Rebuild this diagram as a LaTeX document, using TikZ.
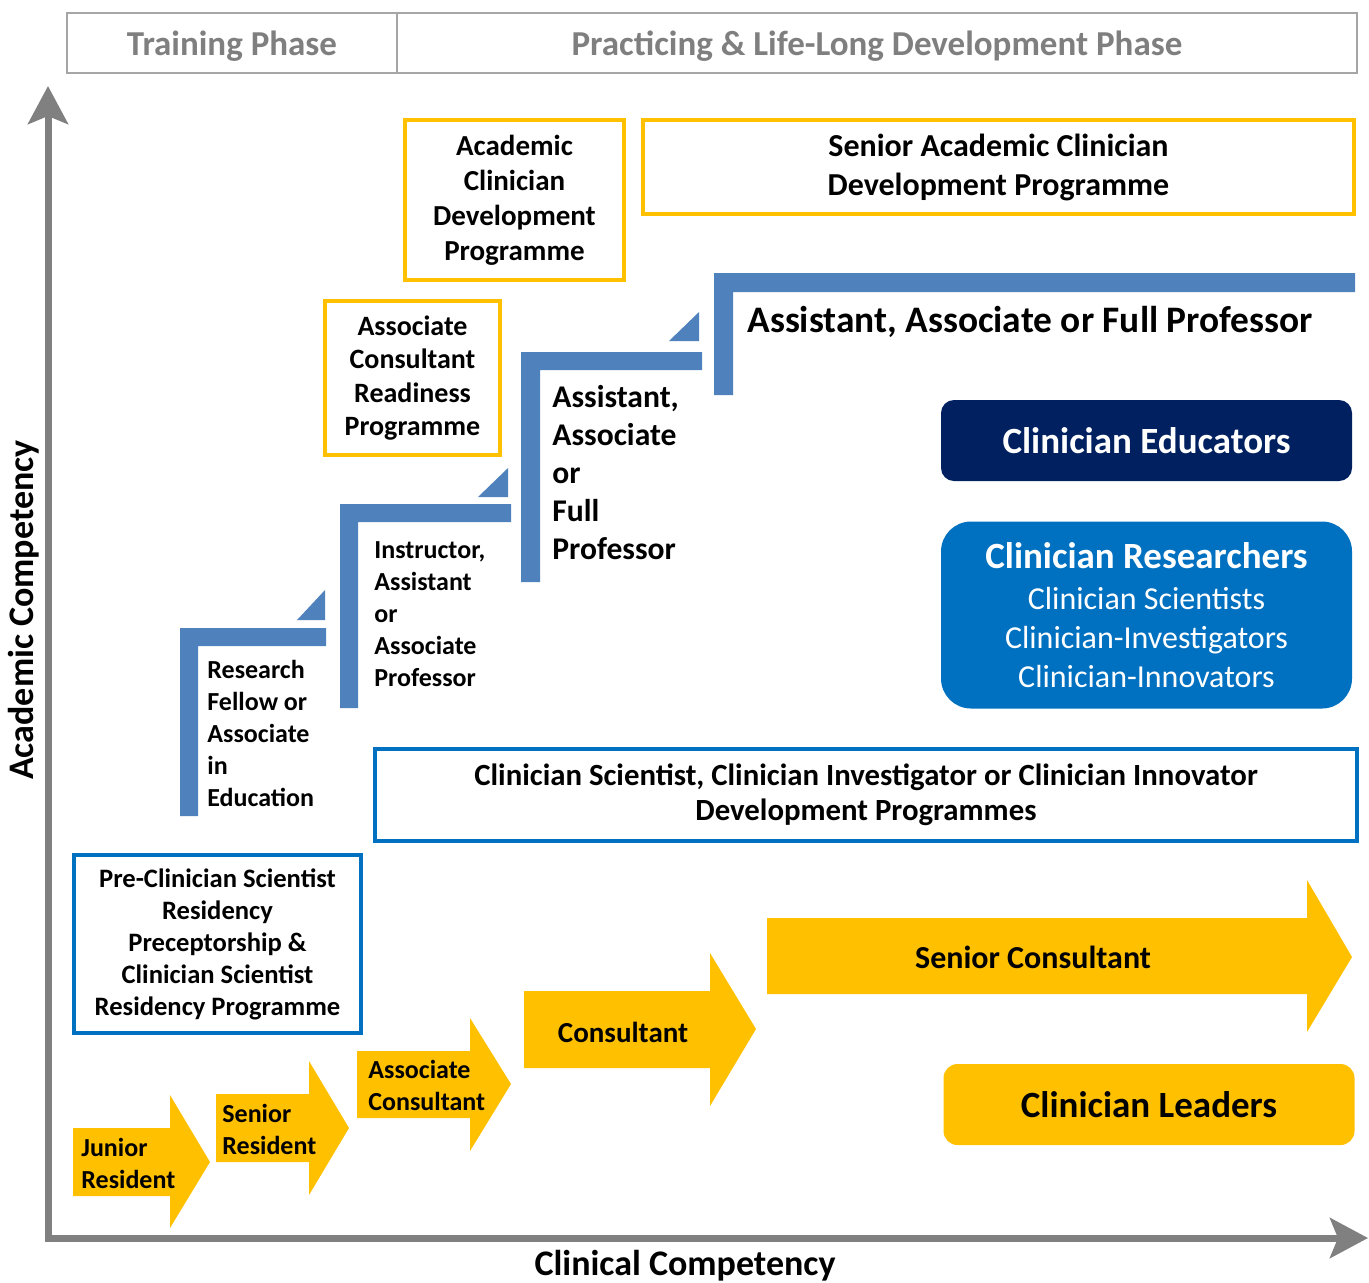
\documentclass[tikz,border=0pt]{standalone}
\usepackage{fontspec}
\setmainfont{Carlito}
\usetikzlibrary{arrows.meta,positioning}
\definecolor{gold}{HTML}{FFC000}
\definecolor{stairblue}{HTML}{4F81BD}
\definecolor{navy}{HTML}{002060}
\definecolor{midblue}{HTML}{0070C0}
\definecolor{axisgray}{HTML}{808080}
\definecolor{phasegray}{HTML}{A6A6A6}
\definecolor{phasetext}{HTML}{7F7F7F}

\begin{document}
\begin{tikzpicture}[x=0.5pt,y=-0.5pt,
  font=\bfseries,
  phase/.style={draw=phasegray, line width=1pt, minimum height=30pt, inner sep=0pt,
    text height=14.5pt, text depth=2.5pt,
    text=phasetext, font=\fontsize{17.5}{20}\selectfont\bfseries},
  ybox/.style={draw=gold, line width=2pt, align=center, inner sep=0pt},
  bbox/.style={draw=midblue, line width=2pt, align=center, inner sep=0pt},
  rbox/.style={rounded corners=6.5pt, align=center, inner sep=0pt, text=white,
    minimum width=205.5pt},
  stair/.style={fill=stairblue},
  rank/.style={anchor=west, align=left, inner sep=0pt},
  yarrow/.style={fill=gold},
  axis/.style={draw=axisgray, line width=3.5pt, -{Stealth[length=19pt, width=20pt, inset=4pt]}}
]
\useasboundingbox (0,0) rectangle (1369,1282);

% phases
\node[phase, minimum width=165pt] (train) at (232,43) {Training Phase};
\node[phase, minimum width=480pt] (practice) at (877,43) {Practicing \& Life-Long Development Phase};

% axes
\coordinate (org) at (48,1238);
\coordinate (ytip) at (48,86);
\coordinate (xtip) at (1368,1238);
\draw[axis] ([yshift=-1.7pt]org) -- (ytip);
\draw[axis] ([xshift=-1.7pt]org) -- (xtip);
\node[rotate=90, font=\fontsize{18}{21}\selectfont\bfseries] (ylab) at (24,610) {Academic Competency};
\node[font=\fontsize{18}{21}\selectfont\bfseries] (xlab) at (685,1266) {Clinical Competency};

% development programmes
\node[ybox, minimum width=109.5pt, minimum height=80pt, font=\fontsize{14.5}{17.5}\selectfont\bfseries]
  (acdp) at (514.5,200) {Academic\\Clinician\\Development\\Programme};
\node[ybox, minimum width=355.5pt, minimum height=47pt, font=\fontsize{16}{19.5}\selectfont\bfseries]
  (sacdp) at (998.5,167) {Senior Academic Clinician\\Development Programme};
\node[ybox, minimum width=87.5pt, minimum height=77pt, font=\fontsize{14}{16.7}\selectfont\bfseries]
  (acrp) at (412.5,378) {Associate\\Consultant\\Readiness\\Programme};
\node[bbox, minimum width=491pt, minimum height=46pt, font=\fontsize{15.4}{17.5}\selectfont\bfseries]
  (csdp) at (866,795) {Clinician Scientist, Clinician Investigator or Clinician Innovator\\Development Programmes};
\node[bbox, minimum width=143.5pt, minimum height=89pt, font=\fontsize{13.3}{16}\selectfont\bfseries]
  (precs) at (217.5,944) {Pre-Clinician Scientist\\Residency\\Preceptorship \&\\Clinician Scientist\\Residency Programme};

% academic stairs
\fill[stair] (180,816) -- (180,628) -- (326,628) -- (326,646) -- (198,646) -- (198,816) -- cycle;
\fill[stair] (297,620) -- (325,590) -- (325,620) -- cycle;
\fill[stair] (340,708) -- (340,504) -- (511,504) -- (511,522) -- (358,522) -- (358,708) -- cycle;
\fill[stair] (478,497) -- (508,468) -- (508,497) -- cycle;
\fill[stair] (521,582) -- (521,352) -- (702,352) -- (702,370) -- (540,370) -- (540,582) -- cycle;
\fill[stair] (669,341) -- (699,312) -- (699,341) -- cycle;
\fill[stair] (714,395) -- (714,273) -- (1355,273) -- (1355,292) -- (733,292) -- (733,395) -- cycle;

\node[rank, font=\fontsize{13}{16}\selectfont\bfseries] (rfae) at (207,733)
  {Research\\Fellow or\\Associate\\in\\Education};
\node[rank, font=\fontsize{13}{16}\selectfont\bfseries] (iaap) at (374,614)
  {Instructor,\\Assistant\\or\\Associate\\Professor};
\node[rank, font=\fontsize{15.8}{19}\selectfont\bfseries] (aafp) at (552,473)
  {Assistant,\\Associate\\or\\Full\\Professor};
\node[rank, font=\fontsize{18.7}{22}\selectfont\bfseries] (prof) at (747,322)
  {Assistant, Associate or Full Professor};

% career tracks
\node[rbox, fill=navy, minimum height=40.5pt, font=\fontsize{18.5}{22}\selectfont\bfseries]
  (educ) at (1146.5,440.5) {Clinician Educators};
\node[rbox, fill=midblue, rounded corners=15pt, minimum height=93.5pt, font=\fontsize{16}{19.5}\selectfont\mdseries]
  (resr) at (1146.5,615) {{\fontsize{18.5}{21}\selectfont\bfseries Clinician Researchers}\\[1pt]
  Clinician Scientists\\Clinician-Investigators\\Clinician-Innovators};
\node[rbox, fill=gold, text=black, rounded corners=7pt, minimum height=40.5pt, font=\fontsize{18.5}{22}\selectfont\bfseries]
  (lead) at (1149,1104.5) {Clinician Leaders};

% clinical arrows
\fill[yarrow] (73,1128) -- (170,1128) -- (170,1095) -- (210,1162) -- (170,1228) -- (170,1196) -- (73,1196) -- cycle;
\fill[yarrow] (216,1094) -- (309,1094) -- (309,1061) -- (349,1128) -- (309,1195) -- (309,1162) -- (216,1162) -- cycle;
\fill[yarrow] (357,1051) -- (470,1051) -- (470,1018) -- (511,1084) -- (470,1151) -- (470,1118) -- (357,1118) -- cycle;
\fill[yarrow] (524,991) -- (710,991) -- (710,953) -- (756,1029) -- (710,1106) -- (710,1068) -- (524,1068) -- cycle;
\fill[yarrow] (767,918) -- (1307,918) -- (1307,880) -- (1352,957) -- (1307,1032) -- (1307,994) -- (767,994) -- cycle;

\node[rank, font=\fontsize{13}{16}\selectfont\bfseries] (jres) at (81,1163) {Junior\\Resident};
\node[rank, font=\fontsize{13}{16}\selectfont\bfseries] (sres) at (222,1129) {Senior\\Resident};
\node[rank, font=\fontsize{13}{16}\selectfont\bfseries] (acon) at (368,1085) {Associate\\Consultant};
\node[font=\fontsize{14.5}{17}\selectfont\bfseries] (cons) at (623,1032) {Consultant};
\node[font=\fontsize{16}{19}\selectfont\bfseries] (scon) at (1033,957) {Senior Consultant};
\end{tikzpicture}
\end{document}
